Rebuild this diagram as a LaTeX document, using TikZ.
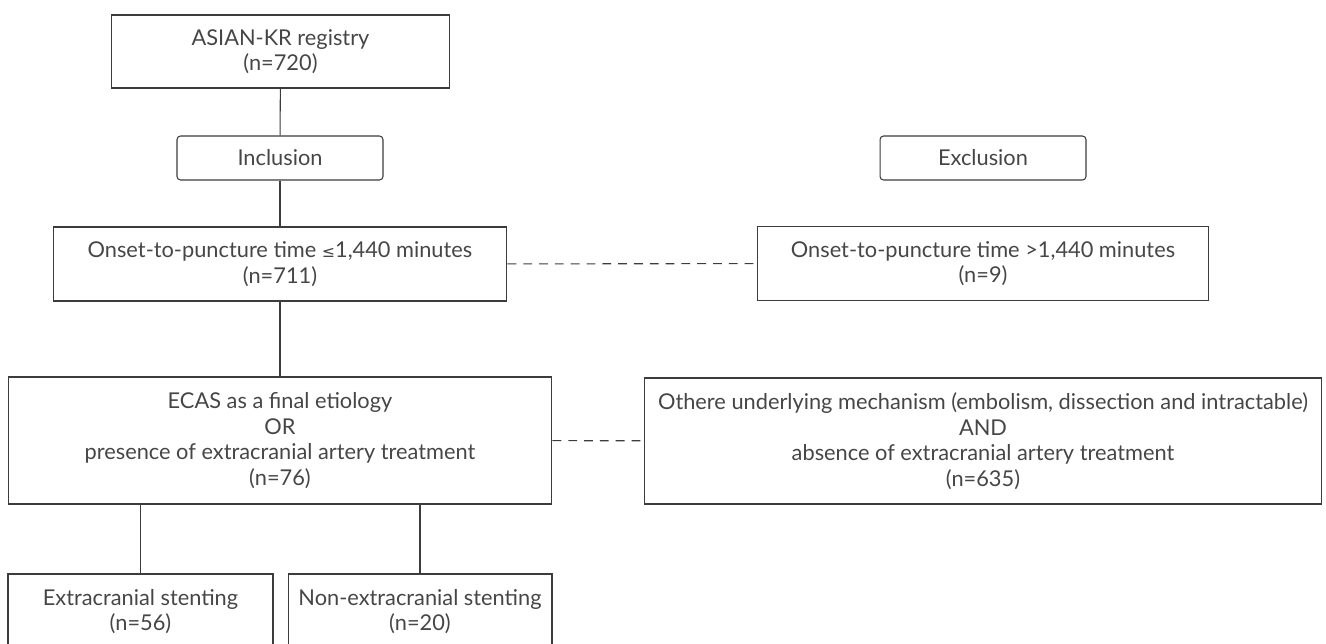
\documentclass[tikz,border=0pt]{standalone}
\usepackage{fontspec}
\setmainfont{Lato}
\newfontfamily\symfont{DejaVu Sans}
\usepackage{tikz}
\usetikzlibrary{positioning, calc}

\definecolor{boxline}{RGB}{60,60,60}
\definecolor{boxtext}{RGB}{70,70,70}

\newcommand{\leqsym}{{\symfont\small ≤}}

\begin{document}
\begin{tikzpicture}[x=0.02cm, y=-0.02cm,
    every node/.style={draw=boxline, line width=0.6pt, text=boxtext, inner sep=0pt, align=center,
        font=\fontsize{12.4}{14.6}\selectfont},
    tagbox/.style={rounded corners=2pt, minimum height=0.88cm},
    link/.style={draw=boxline, line width=0.6pt},
    droplink/.style={link, dash pattern=on 5pt off 4pt}]
        \useasboundingbox (0,0) rectangle (1326,643);

        \node[minimum width=6.78cm, minimum height=1.46cm] (reg) at (280.5,51.5) {ASIAN-KR registry\\(n=720)}; % registry
        \node[tagbox, minimum width=4.12cm] (incl) at (280,158) {Inclusion}; % inclusion tag
        \node[tagbox, minimum width=4.12cm] (excl) at (983,158) {Exclusion}; % exclusion tag
        \node[minimum width=9.08cm, minimum height=1.48cm] (onsetin) at (280,264) {Onset-to-puncture time \leqsym1,440 minutes\\(n=711)}; % kept by time
        \node[minimum width=9.04cm, minimum height=1.48cm] (onsetex) at (983,263.5) {Onset-to-puncture time >1,440 minutes\\(n=9)}; % dropped by time
        \node[minimum width=10.88cm, minimum height=2.54cm] (ecas) at (280,440.5) {ECAS as a final etiology\\OR\\presence of extracranial artery treatment\\(n=76)}; % ECAS group
        \node[minimum width=13.56cm, minimum height=2.52cm] (other) at (983,441) {Othere underlying mechanism (embolism, dissection and intractable)\\AND\\absence of extracranial artery treatment\\(n=635)}; % other mechanisms
        \node[minimum width=5.3cm, minimum height=1.5cm] (stent) at (140.5,611.5) {Extracranial stenting\\(n=56)}; % stenting
        \node[minimum width=5.28cm, minimum height=1.5cm] (nostent) at (420,611.5) {Non-extracranial stenting\\(n=20)}; % no stenting

        \draw[link] (reg) -- (incl);
        \draw[link] (incl) -- (onsetin);
        \draw[link] (onsetin) -- (ecas);
        \foreach \j in {stent, nostent} {
            \draw[link] (ecas.south -| \j.north) -- (\j.north);
        }

        % Excluded branches
        \draw[droplink] (onsetin) -- (onsetex);
        \draw[droplink] (ecas) -- (other);
\end{tikzpicture}
\end{document}
